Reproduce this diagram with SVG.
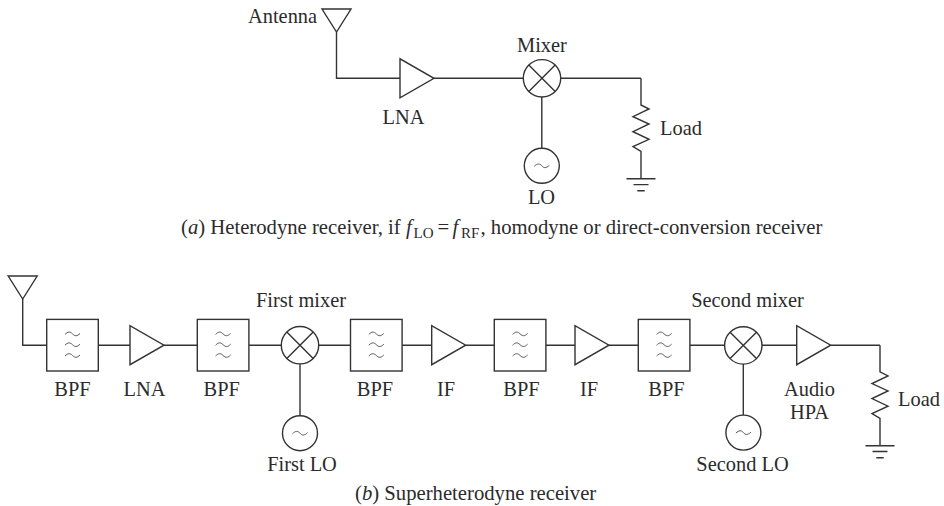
<svg xmlns="http://www.w3.org/2000/svg" width="944" height="506" viewBox="0 0 944 506">
<style>
text{font-family:"Liberation Serif","Times New Roman",serif;font-size:20.4px;fill:#2b2b2b}
.m{text-anchor:middle}
.s{fill:none;stroke:#333;stroke-width:1.4}
.f{fill:#fff;stroke:#333;stroke-width:1.4}
.t{fill:none;stroke:#555;stroke-width:1}
.cap{font-size:20.7px}
.sub{font-size:15px}
.i{font-style:italic}
</style>
<defs>
<g id="amp"><path class="f" d="M0-19.500V19.500L34 0Z"/></g>
<g id="ant"><path class="f" d="M-14.500-23H14.500L0 0Z"/></g>
<g id="mix"><circle class="f" r="18.700"/><path class="s" d="M-13.200-13.200L13.200 13.200M-13.200 13.200L13.200-13.200"/></g>
<g id="lo"><circle class="f" r="17.500"/><path class="t" d="M-7.500 0.500C-4.500-2.500-2-2.500 0 0S4.500 2.500 7.500-0.500"/></g>
<g id="bpf"><rect class="f" x="0" y="-25.800" width="51.600" height="51.600"/><path class="t" d="M18.300-10.800C21.300-13.800 23.300-13.800 25.800-11.300S30.300-8.800 33.300-11.800M18.300 0C21.300-3 23.300-3 25.800-0.500S30.300 2 33.300-1M18.300 10.800C21.300 7.800 23.300 7.800 25.800 10.300S30.300 12.800 33.300 9.800"/></g>
<g id="load"><path class="s" d="M0 0V26.700L8 30.700L-8 38.400L8 45.700L-8 53.400L8 61L-8 68.400L0 73.200V100.500M-14.500 100.500H14.500M-7.500 106.300H7.500M-3.700 112.500H3.700"/></g>
</defs>
<g id="connectors">
<path class="s" d="M336.500 32V78.300H400M434 78.300H523.300M560.700 78.300H641M541.800 97V148.300"/>
<path class="s" d="M22.700 299V345.200H46.700M98.300 345.200H130M164 345.200H197.300M248.900 345.200H281.300M318.700 345.200H350.500M402.100 345.200H431.700M465.700 345.200H494.300M545.900 345.200H575M609 345.200H638.300M689.900 345.200H724.600M762 345.200H796.700M830.700 345.200H880M300 364V415.700M743.300 364V415"/>
</g>
<g id="a-antenna"><use href="#ant" x="336.500" y="32"/><text x="248" y="23">Antenna</text></g>
<g id="a-lna"><use href="#amp" x="400" y="78.300"/><text class="m" x="403.500" y="124">LNA</text></g>
<g id="a-mixer"><use href="#mix" x="542" y="78.300"/><text class="m" x="542" y="52">Mixer</text></g>
<g id="a-lo"><use href="#lo" x="541.800" y="165.800"/><text class="m" x="541.500" y="204">LO</text></g>
<g id="a-load"><use href="#load" x="641" y="78.300"/><text x="660" y="135">Load</text></g>
<g id="caption-a"><text class="cap" y="234"><tspan x="181">(</tspan><tspan class="i">a</tspan><tspan>) Heterodyne receiver, if</tspan><tspan class="i" x="406">f</tspan><tspan class="sub" x="413.500" dy="4">LO</tspan><tspan x="437.500" dy="-4">=</tspan><tspan class="i" x="452.500">f</tspan><tspan class="sub" x="461" dy="4">RF</tspan><tspan x="480.500" dy="-4">, homodyne or direct-conversion receiver</tspan></text></g>
<g id="b-antenna"><use href="#ant" x="22.700" y="299"/></g>
<g id="b-bpf1"><use href="#bpf" x="46.700" y="345.200"/><text class="m" x="72.500" y="396">BPF</text></g>
<g id="b-lna"><use href="#amp" x="130" y="345.200"/><text class="m" x="144.500" y="396">LNA</text></g>
<g id="b-bpf2"><use href="#bpf" x="197.300" y="345.200"/><text class="m" x="221.700" y="396">BPF</text></g>
<g id="b-mixer1"><use href="#mix" x="300" y="345.200"/><text class="m" x="301" y="306.500">First mixer</text></g>
<g id="b-lo1"><use href="#lo" x="300" y="433.200"/><text class="m" x="302" y="471">First LO</text></g>
<g id="b-bpf3"><use href="#bpf" x="350.500" y="345.200"/><text class="m" x="375" y="396">BPF</text></g>
<g id="b-if1"><use href="#amp" x="431.700" y="345.200"/><text class="m" x="446" y="396">IF</text></g>
<g id="b-bpf4"><use href="#bpf" x="494.300" y="345.200"/><text class="m" x="521.500" y="396">BPF</text></g>
<g id="b-if2"><use href="#amp" x="575" y="345.200"/><text class="m" x="589" y="396">IF</text></g>
<g id="b-bpf5"><use href="#bpf" x="638.300" y="345.200"/><text class="m" x="666.500" y="396">BPF</text></g>
<g id="b-mixer2"><use href="#mix" x="743.300" y="345.400"/><text class="m" x="747.500" y="306.500">Second mixer</text></g>
<g id="b-lo2"><use href="#lo" x="743.400" y="432.600"/><text class="m" x="742.500" y="471">Second LO</text></g>
<g id="b-hpa"><use href="#amp" x="796.700" y="345.200"/><text class="m" x="809.500" y="396">Audio</text><text class="m" x="809.500" y="419">HPA</text></g>
<g id="b-load"><use href="#load" x="880" y="345.200"/><text x="898" y="405.500">Load</text></g>
<g id="caption-b"><text class="cap" x="355" y="499.500"><tspan>(</tspan><tspan class="i">b</tspan><tspan>) Superheterodyne receiver</tspan></text></g>
</svg>
